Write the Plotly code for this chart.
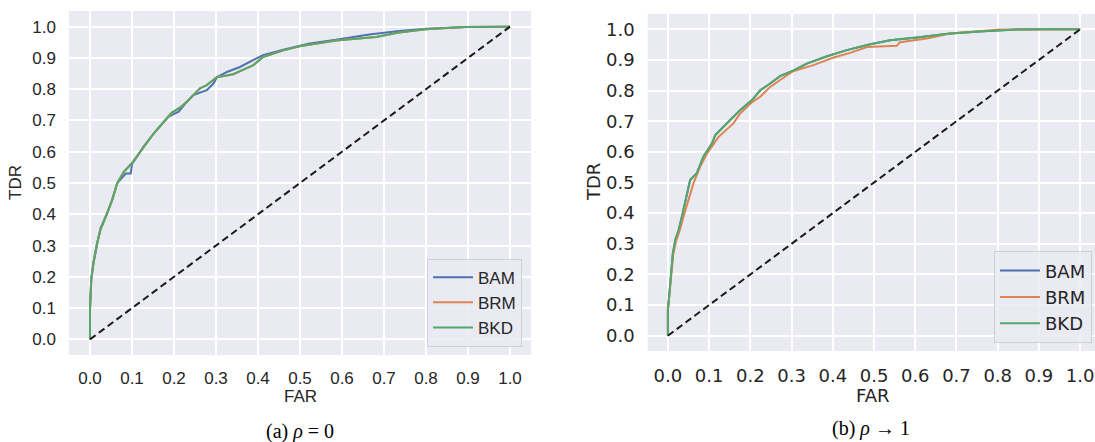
import plotly.graph_objects as go

# ---------------- data ----------------
ticks = [0.0, 0.1, 0.2, 0.3, 0.4, 0.5, 0.6, 0.7, 0.8, 0.9, 1.0]
tick_labels = ["0.0", "0.1", "0.2", "0.3", "0.4", "0.5", "0.6", "0.7", "0.8", "0.9", "1.0"]
series_names = ["BAM", "BRM", "BKD"]
captions = ["(a) <i>ρ</i> = 0", "(b) <i>ρ</i> → 1"]

# (a) rho = 0
a_bam_far = [0, 0, 0.003, 0.008, 0.017, 0.025, 0.041, 0.053, 0.065, 0.085, 0.097, 0.1, 0.128, 0.152,
             0.187, 0.211, 0.231, 0.246, 0.278, 0.294, 0.302, 0.326, 0.357, 0.389, 0.412, 0.46, 0.523,
             0.586, 0.665, 0.736, 0.8, 0.894, 1.0]
a_bam_tdr = [0, 0.097, 0.192, 0.24, 0.305, 0.355, 0.404, 0.447, 0.5, 0.53, 0.53, 0.56, 0.617, 0.659,
             0.712, 0.728, 0.76, 0.781, 0.797, 0.818, 0.838, 0.855, 0.871, 0.893, 0.909, 0.926, 0.946,
             0.958, 0.975, 0.986, 0.993, 0.999, 1.0]
a_bkd_far = [0, 0, 0.003, 0.008, 0.017, 0.025, 0.041, 0.053, 0.065, 0.08, 0.1, 0.128, 0.152, 0.183,
             0.195, 0.215, 0.231, 0.246, 0.262, 0.278, 0.302, 0.341, 0.373, 0.389, 0.412, 0.46, 0.499,
             0.586, 0.681, 0.736, 0.8, 0.894, 1.0]
a_bkd_tdr = [0, 0.097, 0.192, 0.245, 0.309, 0.351, 0.404, 0.447, 0.5, 0.535, 0.564, 0.617, 0.659, 0.707,
             0.725, 0.742, 0.76, 0.781, 0.803, 0.813, 0.838, 0.848, 0.866, 0.877, 0.903, 0.924, 0.937,
             0.956, 0.967, 0.981, 0.992, 0.999, 1.0]
a_brm_far = [0, 0, 0.003, 0.008, 0.017, 0.025, 0.041, 0.053, 0.065, 0.08, 0.1, 0.128, 0.152, 0.183,
             0.195, 0.215, 0.231, 0.246, 0.262, 0.278, 0.302, 0.341, 0.373, 0.389, 0.412, 0.46, 0.499,
             0.586, 0.681, 0.736, 0.8, 0.894, 1.0]
a_brm_tdr = [0, 0.097, 0.192, 0.245, 0.309, 0.351, 0.404, 0.447, 0.5, 0.535, 0.564, 0.617, 0.659, 0.707,
             0.725, 0.742, 0.76, 0.781, 0.803, 0.813, 0.838, 0.848, 0.866, 0.877, 0.903, 0.924, 0.937,
             0.956, 0.967, 0.981, 0.992, 0.999, 1.0]

# (b) rho -> 1
b_bkd_far = [0, 0, 0.003, 0.007, 0.012, 0.018, 0.026, 0.034, 0.042, 0.054, 0.07, 0.086, 0.107, 0.115,
             0.151, 0.175, 0.204, 0.224, 0.248, 0.272, 0.305, 0.337, 0.386, 0.434, 0.491, 0.539, 0.604,
             0.685, 0.766, 0.846, 0.903, 1.0]
b_bkd_tdr = [0, 0.085, 0.128, 0.204, 0.269, 0.313, 0.345, 0.389, 0.437, 0.508, 0.53, 0.584, 0.628, 0.655,
             0.704, 0.736, 0.769, 0.801, 0.823, 0.847, 0.866, 0.888, 0.912, 0.932, 0.951, 0.964, 0.973,
             0.986, 0.994, 0.999, 1.0, 1.0]
b_bam_far = [0, 0, 0.003, 0.007, 0.012, 0.018, 0.026, 0.034, 0.042, 0.054, 0.07, 0.086, 0.107, 0.115,
             0.151, 0.175, 0.204, 0.224, 0.248, 0.272, 0.305, 0.337, 0.386, 0.434, 0.491, 0.539, 0.604,
             0.685, 0.766, 0.846, 0.903, 1.0]
b_bam_tdr = [0, 0.085, 0.128, 0.204, 0.269, 0.313, 0.345, 0.389, 0.437, 0.508, 0.53, 0.584, 0.628, 0.655,
             0.704, 0.736, 0.769, 0.801, 0.823, 0.847, 0.866, 0.888, 0.912, 0.932, 0.951, 0.964, 0.973,
             0.986, 0.994, 0.999, 1.0, 1.0]
b_brm_far = [0, 0, 0.003, 0.008, 0.013, 0.02, 0.028, 0.037, 0.05, 0.062, 0.078, 0.095, 0.123, 0.159,
             0.175, 0.192, 0.204, 0.224, 0.248, 0.289, 0.305, 0.353, 0.402, 0.442, 0.483, 0.555, 0.563,
             0.628, 0.685, 0.806, 0.9, 1.0]
b_brm_tdr = [0, 0.085, 0.125, 0.2, 0.265, 0.31, 0.34, 0.385, 0.443, 0.497, 0.551, 0.595, 0.649, 0.693,
             0.725, 0.745, 0.762, 0.78, 0.812, 0.85, 0.864, 0.883, 0.908, 0.923, 0.942, 0.946, 0.958,
             0.97, 0.986, 0.999, 1.0, 1.0]

chance = [0.0, 1.0]

# ---------------- style ----------------
colors = {"BAM": "#4C72B0", "BRM": "#DD8452", "BKD": "#55A868"}
W, H = 1095, 442
LEFT_FONT = "Liberation Sans, Arial, sans-serif"
RIGHT_FONT = "DejaVu Sans, sans-serif"
TXT = "#262626"

fig = go.Figure()

panels = [
    ("x", "y", "legend", {"BAM": (a_bam_far, a_bam_tdr), "BRM": (a_brm_far, a_brm_tdr), "BKD": (a_bkd_far, a_bkd_tdr)}),
    ("x2", "y2", "legend2", {"BAM": (b_bam_far, b_bam_tdr), "BRM": (b_brm_far, b_brm_tdr), "BKD": (b_bkd_far, b_bkd_tdr)}),
]
for xa, ya, lg, data in panels:
    for name in series_names:
        xs, ys = data[name]
        fig.add_trace(go.Scatter(x=xs, y=ys, mode="lines", name=name, xaxis=xa, yaxis=ya,
                                 legend=lg, line=dict(color=colors[name], width=2)))
    fig.add_trace(go.Scatter(x=chance, y=chance, mode="lines", showlegend=False, xaxis=xa, yaxis=ya,
                             line=dict(color="#1a1a1a", width=2, dash="7px,4px")))

def ax(domain, rng, font, size, anchor, standoff):
    return dict(domain=domain, range=rng, tickvals=ticks, ticktext=tick_labels,
                showgrid=True, gridcolor="white", gridwidth=1.5, zeroline=False,
                showline=False, ticks="", tickfont=dict(family=font, size=size, color=TXT),
                anchor=anchor, ticklabelstandoff=standoff, fixedrange=True)

fig.update_layout(
    width=W, height=H, margin=dict(l=0, r=0, t=0, b=0),
    paper_bgcolor="white", plot_bgcolor="#EAEAF2",
    xaxis=ax([69 / W, 531 / W], [-0.05, 1.05], LEFT_FONT, 17, "y", 11),
    yaxis=ax([1 - 355 / H, 1 - 11 / H], [-0.05, 1.05], LEFT_FONT, 17, "x", 12),
    xaxis2=ax([647.7 / W, 1.0], [-0.049, 1.036], RIGHT_FONT, 18, "y2", 12),
    yaxis2=ax([1 - 351 / H, 1 - 14 / H], [-0.05, 1.05], RIGHT_FONT, 18, "x2", 12),
    legend=dict(x=522 / W, y=1 - 346.7 / H, xanchor="right", yanchor="bottom",
                bgcolor="rgba(234,234,242,0.85)", bordercolor="#CFCFD6", borderwidth=1,
                font=dict(family=LEFT_FONT, size=17, color=TXT), tracegroupgap=0, itemwidth=40),
    legend2=dict(x=1092 / W, y=1 - 343.3 / H, xanchor="right", yanchor="bottom",
                 bgcolor="rgba(234,234,242,0.85)", bordercolor="#CFCFD6", borderwidth=1,
                 font=dict(family=RIGHT_FONT, size=18, color=TXT), tracegroupgap=0, itemwidth=40),
    showlegend=True,
)

annotations = [
    dict(text="TDR", x=15 / W, y=1 - 183 / H, textangle=-90, font=dict(family=LEFT_FONT, size=17, color=TXT)),
    dict(text="FAR", x=300 / W, y=1 - 396 / H, font=dict(family=LEFT_FONT, size=17, color=TXT)),
    dict(text="TDR", x=593 / W, y=1 - 182 / H, textangle=-90, font=dict(family=RIGHT_FONT, size=18, color=TXT)),
    dict(text="FAR", x=873 / W, y=1 - 395 / H, font=dict(family=RIGHT_FONT, size=18, color=TXT)),
    dict(text=captions[0], x=300 / W, y=1 - 431 / H, font=dict(family="Liberation Serif, DejaVu Serif, serif", size=20, color="black")),
    dict(text=captions[1], x=871 / W, y=1 - 428 / H, font=dict(family="Liberation Serif, DejaVu Serif, serif", size=20, color="black")),
]
for a in annotations:
    a.update(xref="paper", yref="paper", showarrow=False, xanchor="center", yanchor="middle")
fig.update_layout(annotations=annotations)

fig.write_html("out.html", config={"displayModeBar": False},
               post_script="document.body.style.margin='0';document.body.style.overflow='hidden';")
